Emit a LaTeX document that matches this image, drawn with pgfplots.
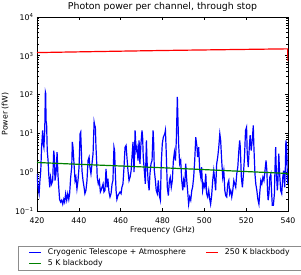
\documentclass[border=0pt]{standalone}
\usepackage{pgfplots}
\pgfplotsset{compat=1.18}
\usepackage{fontspec}
\setmainfont{DejaVu Sans}
\definecolor{mplgreen}{rgb}{0,0.5,0}
\begin{document}
\begin{tikzpicture}
\begin{axis}[
  at={(0,0)}, anchor=south west,
  scale only axis, width=251bp, height=194bp,
  xmin=420, xmax=540, ymode=log, ymin=0.1, ymax=10000,
  xtick={420,440,...,540},
  ytick={0.1,1,10,100,1000,10000},
  yticklabels={10\textsuperscript{−1},10\textsuperscript{0},10\textsuperscript{1},10\textsuperscript{2},10\textsuperscript{3},10\textsuperscript{4}},
  /pgf/number format/assume math mode=true,
  /pgf/number format/1000 sep={},
  tick label style={font=\fontsize{7.8}{9}\selectfont},
  xticklabel style={anchor=base, yshift=-12.3bp},
  label style={font=\fontsize{7.8}{9}\selectfont},
  xlabel={Frequency (GHz)},
  xlabel style={at={(axis description cs:0.5,-0.110)}, anchor=base},
  ylabel={Power (fW)},
  ylabel style={at={(axis description cs:-0.1175,0.5)}, anchor=base, rotate=0},
  every axis title shift=0pt,
  title={Photon power per channel, through stop},
  title style={font=\fontsize{9.4}{11}\selectfont, at={(axis description cs:0.5,1)}, anchor=base, yshift=7bp, inner sep=0pt},
  major tick length=3.5bp, minor tick length=1.8bp,
  tick style={black, line width=0.6bp},
  axis line style={line width=0.8bp},
  legend columns=2,
  legend cell align=left,
  legend style={at={(axis description cs:0.4908,-0.3057)}, anchor=south,
    draw=black!45, inner xsep=10bp, inner ysep=2.8bp,
    font=\fontsize{7.8}{9}\selectfont, row sep=4bp, column sep=4bp,
    nodes={inner ysep=0pt},
    /tikz/every even column/.append style={column sep=18bp}},
]
\addplot[blue, line width=1.2bp, legend image code/.code={\draw[draw=blue, line width=1.2bp] (0bp,0bp) -- (12bp,0bp);}] coordinates {
(420.0,0.91) (420.5,0.41) (421.0,0.28) (421.4,0.61) (421.8,1.1) (422.2,4.4) (422.7,12) (423.0,5.4) (423.3,4.4) (423.7,12)
(424.0,117) (424.2,105) (424.3,21.7) (424.6,17) (424.9,3.6) (425.3,2.0) (425.6,0.91) (426.1,0.41) (426.5,0.74) (427.0,0.5)
(427.5,0.61) (428.0,3.6) (428.3,2.44) (428.6,0.61) (429.1,0.91) (429.6,3.3) (430.0,0.91) (430.4,0.41) (430.8,0.2) (431.3,0.17)
(431.8,0.19) (432.3,0.15) (432.8,0.2) (433.2,0.17) (433.7,0.28) (434.2,0.19) (434.7,0.28) (435.2,0.2) (435.6,0.28) (436.1,0.74)
(436.6,1.35) (436.9,6) (437.2,4.4) (437.7,1.65) (438.2,0.61) (438.6,0.74) (439.1,0.37) (439.6,0.61) (440.1,1.35) (440.6,9.8)
(440.9,10.8) (441.2,3.6) (441.5,1.1) (442.0,0.61) (442.5,0.41) (442.9,0.28) (443.4,0.34) (443.9,0.61) (444.4,2.0) (444.9,2.44)
(445.3,1.35) (445.8,0.91) (446.3,1.65) (446.8,3.0) (447.3,19.6) (447.6,16) (447.9,14.5) (448.2,4.4) (448.5,2.0) (448.8,0.74)
(449.3,0.5) (449.8,0.61) (450.3,0.31) (450.6,0.34) (451.1,0.41) (451.6,0.5) (452.0,0.31) (452.5,0.34) (453.0,1.22) (453.5,0.41)
(453.9,0.68) (454.4,0.31) (454.9,0.23) (455.4,0.28) (455.9,0.5) (456.3,0.61) (456.8,4.4) (457.1,3.6) (457.4,1.1) (457.8,0.34)
(458.2,0.2) (458.7,0.25) (459.2,0.28) (459.7,0.31) (460.2,0.28) (460.6,0.41) (461.1,0.5) (461.6,1.35) (462.1,4.4) (462.6,4.9)
(463.0,2.44) (463.5,1.1) (464.0,0.61) (464.5,0.74) (465.0,1.1) (465.4,2.44) (465.9,6) (466.4,1.0) (466.9,12) (467.4,3.6)
(467.8,4.4) (468.3,2.0) (468.8,6.6) (469.2,1.65) (469.7,5.4) (470.2,12) (470.5,8) (470.8,2.44) (471.3,1.1) (471.8,0.5)
(472.3,6.6) (472.6,2.0) (473.1,0.61) (473.6,0.34) (474.0,0.91) (474.5,1.65) (475.0,2.0) (475.5,12) (475.8,5.4) (476.1,1.1)
(476.6,0.61) (477.0,0.34) (477.5,0.28) (478.0,0.61) (478.5,0.25) (479.0,0.19) (479.4,1.65) (479.9,5.4) (480.4,8) (481.1,9.8)
(481.4,12) (481.7,4.4) (482.0,1.35) (482.3,0.41) (482.8,0.25) (483.3,0.61) (483.7,0.74) (484.2,0.41) (484.7,0.61) (485.2,2.0)
(485.7,3.3) (486.2,2.0) (486.6,6.6) (487.1,87) (487.4,21.7) (487.7,5.4) (488.2,1.65) (488.7,2.0) (489.2,0.61) (489.7,0.34)
(490.1,0.61) (490.6,0.41) (491.1,1.65) (491.6,0.61) (492.0,0.34) (492.5,0.15) (493.0,0.23) (493.5,0.19) (494.0,0.34) (494.4,0.41)
(494.9,0.74) (495.4,2.0) (495.9,8) (496.5,4.4) (496.8,2.44) (497.3,4.4) (497.8,1.1) (498.3,0.74) (498.7,1.35) (499.2,0.34)
(499.7,0.5) (500.2,0.41) (500.7,0.91) (501.1,0.28) (501.6,0.23) (502.1,0.34) (502.6,0.2) (503.0,0.15) (503.5,0.25) (504.0,0.61)
(504.5,1.1) (505.0,0.61) (505.4,0.34) (505.9,1.65) (506.4,2.44) (506.9,4.4) (507.4,9.8) (507.8,6.6) (508.3,2.0) (508.8,0.74)
(509.3,1.1) (509.8,0.34) (510.2,0.25) (510.7,0.23) (511.2,0.5) (511.7,0.61) (512.1,0.28) (512.6,0.34) (513.1,0.23) (513.6,0.34)
(514.1,0.61) (514.5,0.5) (515.0,0.41) (515.5,0.91) (516.0,1.35) (516.5,3.6) (516.9,6.6) (517.2,4.4) (517.7,0.74) (518.2,0.41)
(518.7,0.91) (519.2,2.44) (519.7,12) (520.2,14.5) (520.5,3.0) (521.0,1.35) (521.5,4.4) (521.9,9) (522.4,3.6) (522.9,6.6)
(523.4,16) (523.7,4.4) (524.2,0.91) (524.6,0.5) (525.1,0.34) (525.6,0.2) (526.1,0.15) (526.6,0.34) (527.0,0.61) (527.5,0.5)
(528.0,0.74) (528.5,0.61) (529.0,1.1) (529.5,2.0) (529.9,1.1) (530.2,0.34) (530.5,0.19) (530.9,0.28) (531.3,0.74) (531.8,0.91)
(532.1,0.34) (532.5,0.14) (533.0,0.14) (533.5,0.28) (533.8,1.35) (534.1,4.4) (534.4,1.1) (534.9,0.34) (535.2,0.61) (535.6,3.0)
(536.0,0.91) (536.5,0.34) (537.0,0.28) (537.5,0.74) (537.9,1.1) (538.4,0.41) (538.7,1.1) (539.0,6.6) (539.4,4.4) (539.7,0.61)
(540.0,0.5)
};
\addlegendentry{Cryogenic Telescope + Atmosphere}
\addplot[red, line width=1.2bp, legend image code/.code={\draw[draw=red, line width=1.2bp] (0bp,0bp) -- (12bp,0bp);}] coordinates {
(420,1210) (435,1250) (450,1290) (465,1330) (480,1370) (495,1405) (510,1440) (525,1475) (539.5,1510) (539.8,1500) (540,740)
};
\addlegendentry{250 K blackbody}
\addplot[mplgreen, line width=1.2bp, legend image code/.code={\draw[draw=mplgreen, line width=1.2bp] (0bp,0bp) -- (12bp,0bp);}] coordinates {
(420,1.78) (435,1.64) (450,1.52) (465,1.41) (480,1.30) (495,1.20) (510,1.10) (525,1.01) (539.5,0.93) (540,0.87)
};
\addlegendentry{5 K blackbody}
\end{axis}
\pgfresetboundingbox
\path[use as bounding box] (-37bp,-64bp) rectangle (264bp,211bp);
\end{tikzpicture}
\end{document}
